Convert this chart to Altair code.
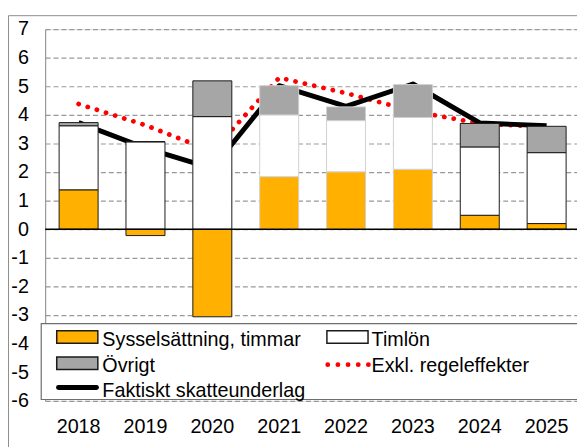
import altair as alt
import pandas as pd

# ---- data ----
years = ["2018", "2019", "2020", "2021", "2022", "2023", "2024", "2025"]
syssel = [1.38, -0.22, -3.06, 1.84, 2.01, 2.10, 0.49, 0.20]
timlon = [2.24, 3.06, 3.94, 2.16, 1.79, 1.81, 2.39, 2.48]
ovrigt = [0.11, 0.00, 1.25, 1.02, 0.48, 1.15, 0.82, 0.92]
faktiskt = [3.73, 2.84, 2.13, 5.02, 4.30, 5.08, 3.72, 3.62]
exkl = [4.38, 3.64, 2.72, 5.30, 4.76, 4.13, 3.70, 3.58]
series_names = ["Sysselsättning, timmar", "Timlön", "Övrigt"]
line_names = ["Exkl. regeleffekter", "Faktiskt skatteunderlag"]
y_ticks = list(range(-6, 8))

series_colors = ["#FFB000", "#FFFFFF", "#A6A6A6"]

rows = []
for i, y in enumerate(years):
    for k, (name, vals) in enumerate(zip(series_names, [syssel, timlon, ovrigt])):
        rows.append({"year": y, "series": name, "value": vals[i], "ord": k})
bar_df = pd.DataFrame(rows)
line_df = pd.DataFrame({"year": years, "faktiskt": faktiskt, "exkl": exkl})

FONT = "Liberation Sans"
FS = 20

x_scale = alt.Scale(type="band", domain=years, range=[0, 542.4],
                    paddingInner=0.417, paddingOuter=0.2085)
y_scale = alt.Scale(domain=[-6, 7], nice=False, zero=False)

x_axis = alt.Axis(title=None, domain=False, ticks=False, tickSize=0, labelPadding=16,
                  labelFont=FONT, labelFontSize=FS, labelColor="black", labelAngle=0, grid=False)
y_axis = alt.Axis(title=None, values=y_ticks, tickCount=14, labelOverlap=False,
                  domain=True, domainColor="#8c8c8c", domainWidth=1,
                  ticks=False, tickSize=0, labelPadding=17, labelFont=FONT, labelFontSize=FS,
                  labelColor="black", labelExpr="'' + datum.value",
                  grid=True, gridColor="#999999", gridDash=[5, 3], gridWidth=1.2)

X = alt.X("year:N", scale=x_scale, axis=x_axis)

red = alt.Chart(line_df).mark_line(color="#FF0000", strokeWidth=4.8, strokeCap="round",
                                   strokeDash=[0.1, 9.6]).encode(
    x=X, y=alt.Y("exkl:Q", scale=y_scale, axis=y_axis))

black = alt.Chart(line_df).mark_line(color="black", strokeWidth=5, strokeJoin="round").encode(
    x=X, y=alt.Y("faktiskt:Q", scale=y_scale, axis=y_axis))

bars = alt.Chart(bar_df).mark_bar(strokeWidth=1).encode(
    x=X,
    y=alt.Y("value:Q", stack="zero", scale=y_scale, axis=y_axis),
    fill=alt.Fill("series:N", scale=alt.Scale(domain=series_names, range=series_colors), legend=None),
    order=alt.Order("ord:Q"),
    stroke=alt.condition("datum.year >= '2021' && datum.year <= '2023'",
                         alt.value("#d0d0d0"), alt.value("#1a1a1a")),
)

zero = alt.Chart(alt.Data(values=[{}])).mark_rule(color="black", strokeWidth=1.5).encode(
    y=alt.Y(datum=0, scale=y_scale, axis=y_axis))

one = alt.Data(values=[{}])


def rect(x1, x2, y1, y2, fill, stroke, sw=1):
    return alt.Chart(one).mark_rect(fill=fill, stroke=stroke, strokeWidth=sw).encode(
        x=alt.value(x1), x2=alt.value(x2), y=alt.value(y1), y2=alt.value(y2))


def text(x, y, s):
    return alt.Chart(one).mark_text(text=s, align="left", baseline="middle", font=FONT,
                                    fontSize=FS, color="black").encode(
        x=alt.value(x), y=alt.value(y))


legend_box = rect(-4, 600, 298.7, 375.6, "white", "#6e6e6e", 1.2)
leg_orange = rect(11.7, 53.4, 306, 318.6, series_colors[0], "#1a1a1a", 1.5)
leg_white = rect(285.7, 327.4, 306, 318.6, series_colors[1], "#1a1a1a", 1.5)
leg_gray = rect(11.7, 53.4, 332.6, 345.3, series_colors[2], "#1a1a1a", 1.5)
leg_black = alt.Chart(one).mark_rule(color="black", strokeWidth=5, strokeCap="round").encode(
    x=alt.value(13.5), x2=alt.value(52), y=alt.value(363.5))
leg_red = alt.Chart(one).mark_rule(color="#FF0000", strokeWidth=4.8, strokeCap="round",
                                   strokeDash=[0.1, 10.2]).encode(
    x=alt.value(286.5), x2=alt.value(328), y=alt.value(340.3))

t1 = text(58.0, 315.4, series_names[0])
t2 = text(331.0, 315.4, series_names[1])
t3 = text(58.0, 341.6, series_names[2])
t4 = text(331.0, 341.6, line_names[0])
t5 = text(58.0, 367.0, line_names[1])

outer = alt.Chart(one).mark_rect(fillOpacity=0, stroke="#8c8c8c", strokeWidth=1).encode(
    x=alt.value(-37.2), x2=alt.value(620), y=alt.value(-13.6), y2=alt.value(460))

chart = alt.layer(
    red, black, bars, zero,
    legend_box, leg_orange, leg_white, leg_gray, leg_black, leg_red,
    t1, t2, t3, t4, t5, outer,
).properties(
    width=539.3, height=377,
    autosize=alt.AutoSizeParams(type="none"),
    padding={"left": 37.7, "top": 18.3, "right": 0, "bottom": 43.7},
).configure_view(stroke=None).configure(background="white")

chart.save("out.html", embed_options={"renderer": "svg", "actions": False})
